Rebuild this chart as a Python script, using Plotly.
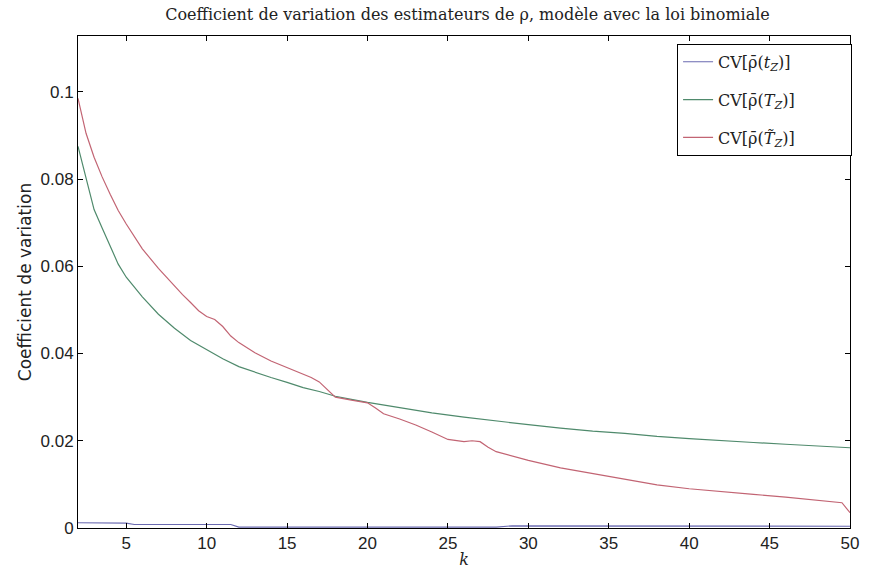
import plotly.graph_objects as go

# ---- data ----
k_blue = [2, 5, 5.5, 11.5, 12, 28, 29, 47.5, 50]
cv_t = [0.0012, 0.0011, 0.0008, 0.0008, 0.0002, 0.0002, 0.0005, 0.0005, 0.0004]

k_green = [2, 2.5, 3, 3.5, 4, 4.5, 5, 6, 7, 8, 9, 10, 11, 12, 13, 14, 15, 16, 17, 18,
           19, 20, 22, 24, 26, 28, 30, 32, 34, 36, 38, 40, 42, 44, 46, 48, 50]
cv_T = [0.0875, 0.0800, 0.0730, 0.0688, 0.0645, 0.0605, 0.0575, 0.0530, 0.0490, 0.0458,
        0.0430, 0.0408, 0.0388, 0.0370, 0.0357, 0.0345, 0.0334, 0.0322, 0.0313, 0.0302,
        0.0295, 0.0288, 0.0276, 0.0264, 0.0254, 0.0245, 0.0237, 0.0229, 0.0222, 0.0217,
        0.0210, 0.0205, 0.0200, 0.0196, 0.0192, 0.0188, 0.0184]

k_red = [2, 2.5, 3, 3.5, 4, 4.5, 5, 5.5, 6, 7, 7.5, 8, 8.5, 9, 9.5, 10, 10.5, 11, 11.5, 12,
         13, 14, 15, 16, 16.5, 17, 17.5, 18, 19, 20, 20.5, 21, 22, 23, 24, 25, 26, 26.5, 27,
         27.5, 28, 29, 30, 32, 34, 36, 38, 40, 42, 44, 46, 48, 49.5, 50]
cv_Tt = [0.0985, 0.0905, 0.0850, 0.0805, 0.0765, 0.0728, 0.0697, 0.0668, 0.0640, 0.0595,
         0.0575, 0.0553, 0.0535, 0.0517, 0.0498, 0.0485, 0.0478, 0.0462, 0.0440, 0.0425,
         0.0402, 0.0383, 0.0368, 0.0352, 0.0345, 0.0335, 0.0318, 0.0300, 0.0293, 0.0287,
         0.0275, 0.0262, 0.0250, 0.0236, 0.0220, 0.0203, 0.0198, 0.0200, 0.0198, 0.0185,
         0.0175, 0.0165, 0.0155, 0.0138, 0.0125, 0.0112, 0.0099, 0.0090, 0.0083, 0.0077,
         0.0071, 0.0064, 0.0058, 0.0035]

x_ticks = [5, 10, 15, 20, 25, 30, 35, 40, 45, 50]
y_ticks = [0, 0.02, 0.04, 0.06, 0.08, 0.1]
y_ticklabels = ["0", "0.02", "0.04", "0.06", "0.08", "0.1"]

pad = "\u00a0" * 10
names = ["CV[ρ̄(<i>t<sub>Z</sub></i>)]" + pad,
         "CV[ρ̄(<i>T<sub>Z</sub></i>)]" + pad,
         "CV[ρ̄(<i>T̃<sub>Z</sub></i>)]" + pad]
colors = ["#6a6ab0", "#4f8a6c", "#c26473"]

serif = "DejaVu Serif, Liberation Serif, serif"
sans = "Liberation Sans, Arial, sans-serif"

fig = go.Figure()
for i, (xs, ys) in enumerate([(k_blue, cv_t), (k_green, cv_T), (k_red, cv_Tt)]):
    fig.add_trace(go.Scatter(x=xs, y=ys, mode="lines", name=names[i],
                             legendgroup=f"g{i}",
                             line=dict(color=colors[i], width=1.2)))

axis_common = dict(showline=True, linecolor="black", linewidth=1, mirror="ticks",
                   ticks="inside", ticklen=5, tickcolor="black", showgrid=False,
                   zeroline=False,
                   tickfont=dict(family=sans, size=17, color="#222"))

fig.update_layout(
    width=871, height=578,
    margin=dict(l=78, r=14, t=36, b=48),
    paper_bgcolor="white", plot_bgcolor="white",
    title=dict(text="Coefficient de variation des estimateurs de ρ, modèle avec la loi binomiale",
               x=(78 + 857) / 2 / 871, xanchor="center", y=1 - 14 / 578, yanchor="middle",
               font=dict(family=serif, size=16, color="#222")),
    xaxis=dict(range=[2, 50], tickvals=x_ticks,
               title=dict(text="<i>k</i>", font=dict(family=serif, size=16, color="#222"),
                          standoff=1),
               **axis_common),
    yaxis=dict(range=[0, 0.1128], tickvals=y_ticks, ticktext=y_ticklabels,
               title=dict(text="Coefficient de variation",
                          font=dict(family="DejaVu Sans, sans-serif", size=17, color="#222"),
                          standoff=4),
               **axis_common),
    legend=dict(x=0.776, y=0.984, xanchor="left", yanchor="top",
                bgcolor="white", bordercolor="black", borderwidth=1,
                font=dict(family=serif, size=16, color="#222"),
                tracegroupgap=14),
    showlegend=True,
)

fig.write_html("out.html")
